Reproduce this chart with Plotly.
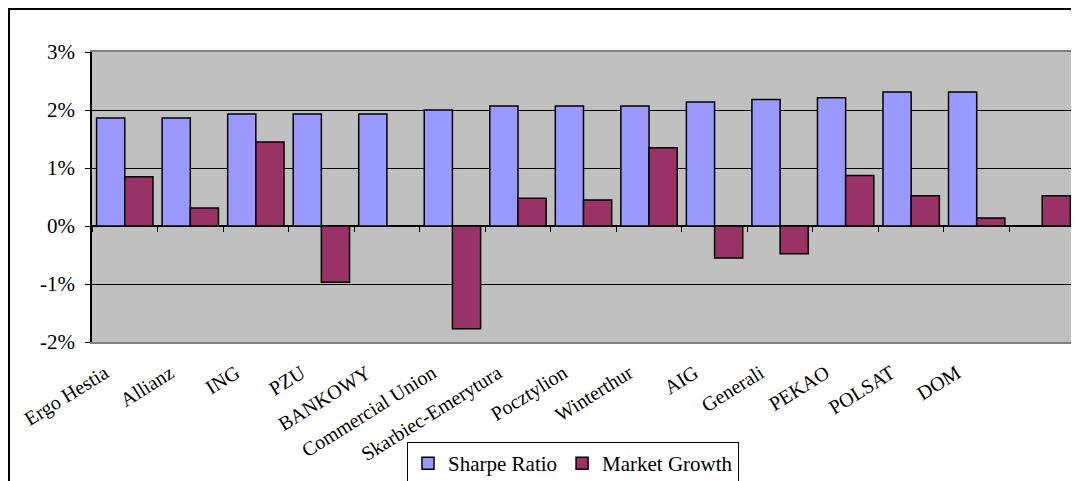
import plotly.graph_objects as go

categories = ["Ergo Hestia", "Allianz", "ING", "PZU", "BANKOWY", "Commercial Union",
              "Skarbiec-Emerytura", "Pocztylion", "Winterthur", "AIG", "Generali",
              "PEKAO", "POLSAT", "DOM", " "]
sharpe_ratio = [1.86, 1.86, 1.93, 1.93, 1.93, 2.00, 2.07, 2.07, 2.07, 2.14, 2.18,
                2.21, 2.31, 2.31, None]
market_growth = [0.85, 0.31, 1.45, -0.97, None, -1.77, 0.48, 0.45, 1.35, -0.55, -0.48,
                 0.87, 0.52, 0.14, 0.52]
y_tick_vals = [-2, -1, 0, 1, 2, 3]
y_tick_text = ["-2%", "-1%", "0%", "1%", "2%", "3%"]

FONT = "Liberation Serif"
W, H = 1079, 481
L, T = 84, 44
pw, ph = 983, 290
R, B = W - L - pw, H - T - ph

fig = go.Figure()
fig.add_trace(go.Bar(name="Sharpe Ratio", x=categories, y=sharpe_ratio,
                     marker=dict(color="#9999FF", line=dict(color="black", width=1.5))))
fig.add_trace(go.Bar(name="Market Growth", x=categories, y=market_growth,
                     marker=dict(color="#993366", line=dict(color="black", width=1.5))))

n = len(categories)
boundaries = [i - 0.5 for i in range(n + 1)]

fig.update_layout(
    width=W, height=H,
    margin=dict(l=L, r=R, t=T, b=B, autoexpand=False),
    paper_bgcolor="white",
    plot_bgcolor="#C0C0C0",
    barmode="group",
    bargap=0.14,
    bargroupgap=0,
    font=dict(family=FONT, color="black", size=18),
    showlegend=True,
    legend=dict(orientation="h", x=(399 - L) / pw, xanchor="left",
                y=(T + ph - 434) / ph, yanchor="top",
                bgcolor="white", bordercolor="black", borderwidth=1,
                font=dict(family=FONT, size=21, color="black"),
                itemwidth=30, tracegroupgap=0),
    xaxis=dict(type="category", categoryorder="array", categoryarray=categories,
               range=[-0.5, n - 0.5], automargin=False,
               showline=True, linecolor="#808080", linewidth=1.5, mirror=True,
               ticks="", showgrid=False, tickangle=-32,
               tickfont=dict(family=FONT, size=20, color="black"),
               ticklabelstandoff=10, ticklabelshift=-20),
    xaxis2=dict(overlaying="x", anchor="free", position=0.4, range=[-0.5, n - 0.5],
                tickmode="array", tickvals=boundaries, ticks="outside", ticklen=5,
                tickcolor="black", tickwidth=1, showticklabels=False,
                showgrid=False, zeroline=False, showline=False, automargin=False),
    yaxis=dict(range=[-2, 3], tickmode="array", tickvals=y_tick_vals, ticktext=y_tick_text,
               automargin=False,
               showgrid=True, gridcolor="black", gridwidth=1,
               zeroline=True, zerolinecolor="black", zerolinewidth=1.5,
               showline=True, linecolor="black", linewidth=1.5,
               ticks="outside", ticklen=5, tickcolor="black",
               tickfont=dict(family=FONT, size=21, color="black"),
               ticklabelstandoff=6),
    shapes=[
        dict(type="line", xref="paper", yref="paper", x0=1, x1=1, y0=0, y1=1,
             line=dict(color="#808080", width=1.5)),
        dict(type="rect", xref="paper", yref="paper",
             x0=(1 - L) / pw, x1=(W - L - 1) / pw,
             y0=-(B - 1) / ph, y1=(ph + T - 1) / ph,
             line=dict(color="black", width=2), layer="above"),
    ],
)
# empty trace so the overlay axis renders
fig.add_trace(go.Scatter(x=[], y=[], xaxis="x2", showlegend=False, hoverinfo="skip"))

fig.write_html("out.html")
